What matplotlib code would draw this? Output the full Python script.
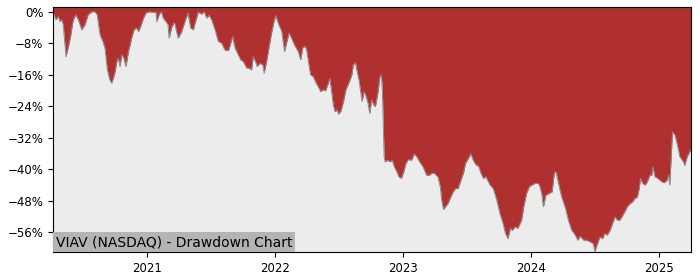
import matplotlib
matplotlib.use("Agg")
import matplotlib.pyplot as plt
import matplotlib.dates as mdates
from matplotlib.ticker import PercentFormatter
import numpy as np
import pandas as pd

# drawdown readings (percent below running peak)
dates = [
    "2020-04-08", "2020-04-16", "2020-04-23", "2020-04-28", "2020-05-03", "2020-05-07",
    "2020-05-15", "2020-05-21", "2020-05-28", "2020-06-03", "2020-06-07", "2020-06-12",
    "2020-06-19", "2020-06-29", "2020-07-08", "2020-07-17", "2020-07-27", "2020-08-06",
    "2020-08-12", "2020-08-20", "2020-08-28", "2020-09-03", "2020-09-10", "2020-09-17",
    "2020-09-22", "2020-09-27", "2020-10-02", "2020-10-07", "2020-10-11", "2020-10-16",
    "2020-10-21", "2020-10-27", "2020-11-02", "2020-11-09", "2020-11-14", "2020-11-18",
    "2020-11-25", "2020-12-01", "2020-12-08", "2020-12-14", "2020-12-22", "2020-12-29",
    "2021-01-08", "2021-01-21", "2021-01-26", "2021-01-29", "2021-02-05", "2021-02-11",
    "2021-02-16", "2021-02-24", "2021-03-02", "2021-03-05", "2021-03-12", "2021-03-18",
    "2021-03-21", "2021-03-26", "2021-03-31", "2021-04-10", "2021-04-19", "2021-04-28",
    "2021-05-05", "2021-05-13", "2021-05-18", "2021-05-27", "2021-06-06", "2021-06-13",
    "2021-06-20", "2021-06-27", "2021-07-04", "2021-07-14", "2021-07-23", "2021-08-02",
    "2021-08-11", "2021-08-21", "2021-08-25", "2021-09-02", "2021-09-09", "2021-09-18",
    "2021-09-25", "2021-10-02", "2021-10-12", "2021-10-19", "2021-10-26", "2021-10-31",
    "2021-11-06", "2021-11-11", "2021-11-19", "2021-11-27", "2021-12-01", "2021-12-08",
    "2021-12-16", "2021-12-22", "2021-12-29",
    "2022-01-03", "2022-01-10", "2022-01-20", "2022-01-28", "2022-02-04", "2022-02-10",
    "2022-02-17", "2022-02-25", "2022-03-08", "2022-03-15", "2022-03-21", "2022-03-28",
    "2022-04-01", "2022-04-06", "2022-04-12", "2022-04-20", "2022-04-28", "2022-05-04",
    "2022-05-11", "2022-05-18", "2022-05-25", "2022-05-31", "2022-06-06", "2022-06-10",
    "2022-06-16", "2022-06-21", "2022-06-27", "2022-07-01", "2022-07-08", "2022-07-15",
    "2022-07-22", "2022-08-01", "2022-08-08", "2022-08-12", "2022-08-18", "2022-08-23",
    "2022-08-29", "2022-09-06", "2022-09-12", "2022-09-16", "2022-09-23", "2022-09-28",
    "2022-10-03", "2022-10-10", "2022-10-14", "2022-10-21", "2022-10-27", "2022-10-31",
    "2022-11-03", "2022-11-08", "2022-11-11", "2022-11-18", "2022-11-25", "2022-12-01",
    "2022-12-07", "2022-12-14", "2022-12-20", "2022-12-27",
    "2023-01-03", "2023-01-09", "2023-01-16", "2023-01-25", "2023-02-02", "2023-02-09",
    "2023-02-17", "2023-02-27", "2023-03-09", "2023-03-17", "2023-03-24", "2023-03-31",
    "2023-04-10", "2023-04-17", "2023-04-21", "2023-04-26", "2023-05-02", "2023-05-09",
    "2023-05-17", "2023-05-24", "2023-05-31", "2023-06-07", "2023-06-15", "2023-06-22",
    "2023-06-28", "2023-07-06", "2023-07-13", "2023-07-20", "2023-07-28", "2023-08-04",
    "2023-08-11", "2023-08-18", "2023-08-25", "2023-09-06", "2023-09-15", "2023-09-25",
    "2023-10-04", "2023-10-13", "2023-10-20", "2023-10-27", "2023-11-03", "2023-11-09",
    "2023-11-16", "2023-11-24", "2023-12-05", "2023-12-11", "2023-12-19", "2023-12-27",
    "2024-01-03", "2024-01-12", "2024-01-22", "2024-01-26", "2024-01-31", "2024-02-05",
    "2024-02-12", "2024-02-22", "2024-03-01", "2024-03-07", "2024-03-12", "2024-03-19",
    "2024-03-28", "2024-04-08", "2024-04-16", "2024-04-26", "2024-05-06", "2024-05-13",
    "2024-05-20", "2024-05-30", "2024-06-07", "2024-06-17", "2024-06-26", "2024-07-01",
    "2024-07-05", "2024-07-15", "2024-07-23", "2024-07-29", "2024-08-05", "2024-08-13",
    "2024-08-20", "2024-08-27", "2024-09-03", "2024-09-10", "2024-09-18", "2024-09-24",
    "2024-10-01", "2024-10-09", "2024-10-16", "2024-10-23", "2024-10-30", "2024-11-04",
    "2024-11-08", "2024-11-14", "2024-11-21", "2024-11-27", "2024-12-05", "2024-12-10",
    "2024-12-13", "2024-12-19", "2024-12-27",
    "2025-01-08", "2025-01-15", "2025-01-23", "2025-01-27", "2025-01-30", "2025-02-03",
    "2025-02-07", "2025-02-14", "2025-02-21", "2025-02-28", "2025-03-10", "2025-03-14",
    "2025-03-21", "2025-03-31",
]
drawdown = [
    0.0, -2.0, -1.2, -2.5, -2.0, -3.3,
    -11.4, -9.2, -6.3, -2.9, -1.6, -0.8,
    -2.0, -4.6, -3.3, -0.8, 0.0, 0.0,
    -0.8, -5.9, -7.5, -9.2, -14.8, -17.3,
    -18.1, -16.9, -15.2, -12.6, -11.8, -13.9,
    -10.9, -11.8, -13.9, -10.1, -8.4, -6.7,
    -4.6, -4.1, -5.0, -3.7, -1.6, -0.3,
    0.0, -0.2, 0.0, -2.5, -0.6, 0.0,
    -1.6, -2.5, -3.3, -6.7, -4.1, -2.9,
    -2.9, -5.0, -6.7, -5.0, -2.5, -0.3,
    -4.1, -4.6, -2.9, -0.1, -0.6, 0.0,
    -1.6, -0.9, -2.0, -4.6, -7.5, -8.0,
    -9.7, -9.9, -8.8, -6.3, -9.2, -10.9,
    -12.2, -12.6, -14.3, -14.3, -14.8, -11.4,
    -12.6, -13.9, -13.1, -13.5, -15.6, -12.6,
    -8.4, -5.4, -2.5,
    -1.0, -2.9, -5.0, -10.1, -7.5, -5.4,
    -6.7, -8.4, -10.1, -12.2, -9.1, -8.8,
    -9.7, -12.6, -16.0, -16.5, -18.1, -19.0,
    -20.3, -19.8, -20.1, -18.6, -17.0, -19.4,
    -23.7, -25.4, -24.9, -26.0, -25.2, -22.8,
    -19.8, -17.7, -16.0, -13.5, -12.9, -15.2,
    -17.7, -22.8, -20.3, -21.1, -23.2, -25.8,
    -22.4, -23.7, -24.1, -20.7, -16.5, -16.0,
    -20.0, -36.8, -38.1, -37.7, -38.1, -37.7,
    -39.4, -40.6, -41.9, -42.3,
    -40.6, -38.5, -37.5, -37.7, -36.1, -36.8,
    -38.1, -39.4, -41.5, -41.5, -41.0, -41.0,
    -41.9, -44.4, -47.8, -50.2, -49.5, -48.7,
    -47.0, -45.7, -44.9, -44.9, -42.7, -41.0,
    -38.5, -37.2, -36.1, -37.7, -38.9, -39.2,
    -41.0, -42.3, -41.9, -44.0, -44.9, -47.8,
    -51.2, -53.8, -56.3, -57.6, -55.0, -55.5,
    -54.6, -55.0, -52.9, -49.5, -46.1, -44.4,
    -44.0, -43.6, -43.6, -44.4, -46.1, -49.5,
    -46.6, -46.1, -45.7, -41.0, -40.6, -43.6,
    -47.0, -49.9, -52.9, -55.5, -56.7, -58.0,
    -57.0, -58.0, -58.0, -58.4, -58.9, -61.0,
    -59.7, -57.2, -57.6, -56.3, -56.7, -55.5,
    -53.8, -52.1, -52.9, -52.9, -51.7, -50.8,
    -49.5, -48.7, -48.3, -47.4, -47.0, -44.9,
    -42.3, -43.6, -44.0, -43.2, -41.5, -41.5,
    -39.4, -41.9, -42.3,
    -43.2, -43.4, -42.7, -41.5, -44.0, -37.7,
    -30.5, -31.3, -33.8, -36.8, -38.1, -39.0,
    -36.8, -35.1,
]
yticks = [0, -8, -16, -24, -32, -40, -48, -56]
title = "VIAV (NASDAQ) - Drawdown Chart"

x = pd.to_datetime(dates)
dd = np.array(drawdown)
y_top = 1.2

fig = plt.figure(figsize=(7, 2.8), dpi=100)
ax = fig.add_axes([0.0757, 0.1, 0.911, 0.875])
ax.set_facecolor("#ececec")

ax.fill_between(x, dd, y_top, color="#b03030", linewidth=0)
ax.plot(x, dd, color="#8a8a8a", linewidth=0.7)

ax.set_xlim(x[0], x[-1])
ax.set_ylim(dd.min(), y_top)
ax.set_yticks(yticks)
ax.yaxis.set_major_formatter(PercentFormatter(decimals=0))
ax.xaxis.set_major_locator(mdates.YearLocator())
ax.xaxis.set_major_formatter(mdates.DateFormatter("%Y"))
ax.tick_params(labelsize=8.5)

ax.text(0.0045, 0.012, title, transform=ax.transAxes, fontsize=10,
        ha="left", va="bottom",
        bbox=dict(boxstyle="square,pad=0.2", facecolor="#b4b4b4", edgecolor="none"))

fig.savefig("out.png", dpi=100)
